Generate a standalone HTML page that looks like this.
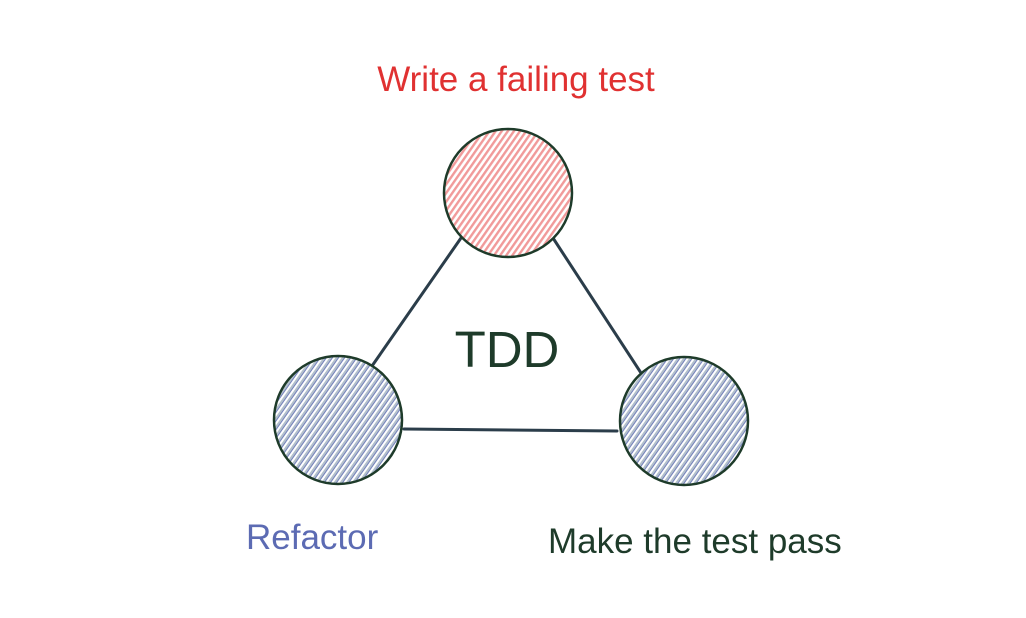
<!DOCTYPE html>
<html><head><style>
html,body{margin:0;padding:0;background:#fff;width:1026px;height:618px;overflow:hidden}
</style></head><body>
<svg width="1026" height="618" viewBox="0 0 1026 618" xmlns="http://www.w3.org/2000/svg">
<defs>
<pattern id="pr" width="5" height="5" patternUnits="userSpaceOnUse" patternTransform="rotate(-55)">
<rect width="5" height="5" fill="#fff"/><rect width="5" height="2.4" fill="#f19a9a"/></pattern>
<pattern id="pb" width="5" height="5" patternUnits="userSpaceOnUse" patternTransform="rotate(-55)">
<rect width="5" height="5" fill="#fff"/><rect width="5" height="2" fill="#b3c0cc"/><rect y="2" width="5" height="1" fill="#7380bb"/></pattern>
</defs>
<g stroke="#2b3d4a" stroke-width="3" stroke-linecap="round">
<line x1="461" y1="238" x2="372" y2="366"/>
<line x1="553" y1="238" x2="643" y2="376"/>
<line x1="404" y1="429" x2="617" y2="431"/>
</g>
<circle cx="508" cy="193" r="64" fill="url(#pr)" stroke="#1e3b2a" stroke-width="2.5"/>
<circle cx="338" cy="420" r="64" fill="url(#pb)" stroke="#1e3b2a" stroke-width="2.5"/>
<circle cx="684" cy="421" r="64" fill="url(#pb)" stroke="#1e3b2a" stroke-width="2.5"/>
<g font-family="Liberation Sans, sans-serif">
<text x="516" y="91" font-size="35" fill="#e03131" text-anchor="middle">Write a failing test</text>
<text x="507" y="367" font-size="51" fill="#1e3b2a" text-anchor="middle">TDD</text>
<text x="246" y="549" font-size="35" fill="#5c6bb3">Refactor</text>
<text x="548" y="553" font-size="35" fill="#1e3b2a">Make the test pass</text>
</g>
</svg>
</body></html>
